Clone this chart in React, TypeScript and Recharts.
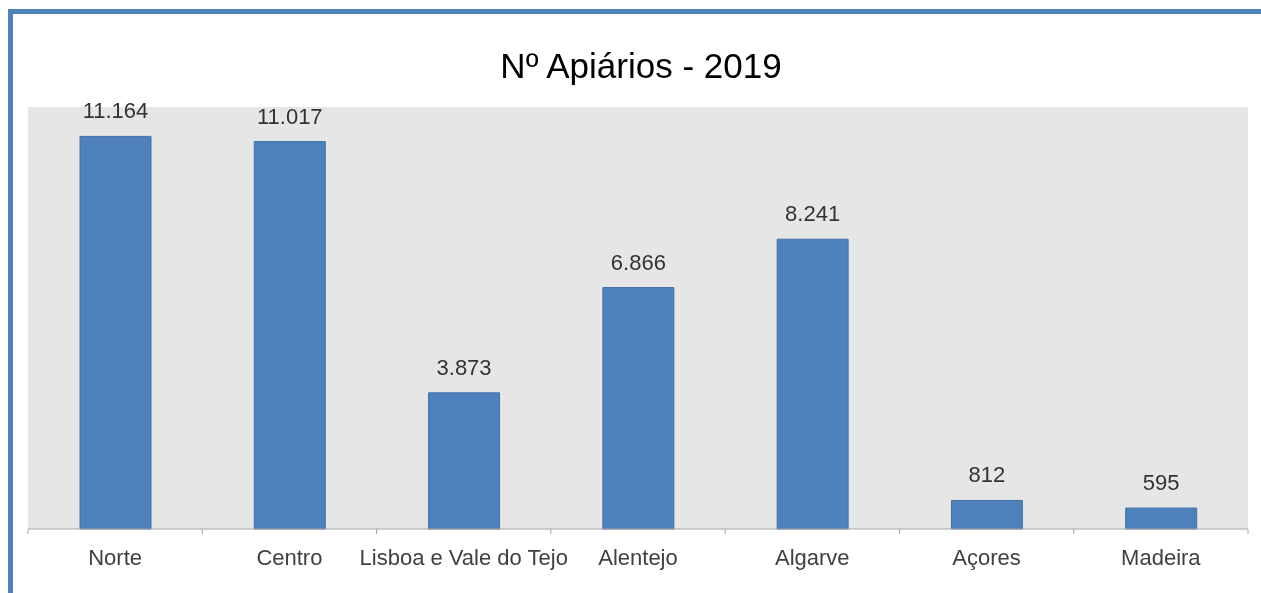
import React from 'react';
import { BarChart, Bar, XAxis, YAxis, CartesianGrid, LabelList } from 'recharts';

const categories = ['Norte', 'Centro', 'Lisboa e Vale do Tejo', 'Alentejo', 'Algarve', 'Açores', 'Madeira'];
const apiarios = [11164, 11017, 3873, 6866, 8241, 812, 595];
const boundaryTicks = [0, 1, 2, 3, 4, 5, 6, 7];
const title = 'Nº Apiários - 2019';

const data = categories.map((name, i) => ({ name, value: apiarios[i], idx: i + 0.5 }));

const fmt = (v: any) => String(v).replace(/\B(?=(\d{3})+(?!\d))/g, '.');

const EmptyTick = () => <g />;

export default function App() {
  return (
    <div>
      <div
        style={{
          position: 'fixed',
          left: 8,
          top: 9,
          width: 1260,
          height: 600,
          borderTop: '5px solid #4F81BD',
          borderLeft: '5px solid #4F81BD',
          boxSizing: 'border-box',
        }}
      />
      <div
        style={{
          position: 'fixed',
          left: 0,
          top: 0,
        }}
      >
        <BarChart
          width={1261}
          height={593}
          data={data}
          margin={{ top: 107, right: 13, left: 28, bottom: 33 }}
          barCategoryGap={0}
        >
          <CartesianGrid fill="#E6E6E6" horizontal={false} vertical={false} stroke="none" />
          <XAxis
            xAxisId="b"
            type="number"
            dataKey="idx"
            domain={[0, 7]}
            ticks={boundaryTicks}
            allowDataOverflow
            height={1}
            tick={EmptyTick}
            tickSize={5}
            tickLine={{ stroke: '#A6A6A6' }}
            axisLine={{ stroke: '#A6A6A6' }}
          />
          <XAxis
            xAxisId="cat"
            dataKey="name"
            height={30}
            tickLine={false}
            axisLine={false}
            tickSize={0}
            tickMargin={19}
            interval={0}
            tick={{ fill: '#404040', fontSize: 22, fontFamily: 'Liberation Sans, Arial, sans-serif' }}
          />
          <YAxis hide domain={[0, 12000]} />
          <Bar
            xAxisId="cat"
            dataKey="value"
            fill="#4F81BD"
            stroke="#4372AA"
            strokeWidth={1}
            barSize={71}
            isAnimationActive={false}
          >
            <LabelList
              dataKey="value"
              position="top"
              offset={18}
              formatter={fmt}
              style={{ fill: '#333333', fontSize: 22, fontFamily: 'Liberation Sans, Arial, sans-serif' }}
            />
          </Bar>
        </BarChart>
      </div>
      <div
        style={{
          position: 'fixed',
          left: 641,
          top: 49,
          transform: 'translateX(-50%)',
          fontFamily: 'Liberation Sans, Arial, sans-serif',
          fontSize: 35,
          lineHeight: '34px',
          color: '#000',
          whiteSpace: 'nowrap',
        }}
      >
        {title}
      </div>
    </div>
  );
}
